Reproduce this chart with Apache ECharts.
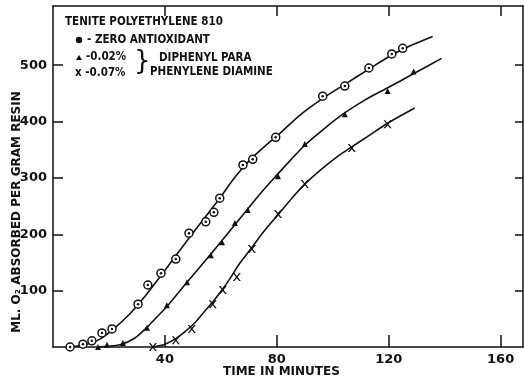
<!DOCTYPE html>
<html><head><meta charset="utf-8">
<script src="https://cdn.jsdelivr.net/npm/echarts@6/dist/echarts.min.js"></script>
<style>html,body{margin:0;padding:0;background:#fff}#c{width:524px;height:381px}</style>
</head><body><div id="c"></div>
<script>
// tick labels
const xTickValues = [40, 80, 120, 160];
const yTickValues = [100, 200, 300, 400, 500];

// measured points (time in minutes, ml O2 absorbed)
const zeroPts = [[6.1,0],[10.7,5],[13.9,11],[17.5,25],[21.1,32],[30.4,76],[33.9,110],[38.6,131],[43.9,156],[48.6,202],[54.6,222],[57.5,239],[59.6,264],[67.9,323],[71.4,333],[79.6,372],[96.4,445],[104.3,463],[112.9,495],[121.1,520],[125,530]];
const p02Pts = [[16.1,0],[19.3,4],[25,7],[33.6,34],[40.7,74],[47.9,115],[56.4,163],[60.4,186],[65,220],[69.6,243],[80.4,303],[90,360],[104.3,413],[119.6,454],[128.9,489]];
const p07Pts = [[35.7,0],[43.9,12],[49.6,32],[57.1,76],[60.7,101],[65.7,124],[71.1,174],[80.4,236],[90,289],[106.8,353],[119.6,395]];

// hand-drawn fitted curves
const zeroCurve = [[6.1,0],[11.4,4],[16.8,14],[22.1,34],[27.5,59],[32.9,90],[38.2,124],[43.6,160],[48.9,195],[54.3,230],[59.6,264],[65,301],[70.4,332],[75.7,356],[81.1,379],[88.2,411],[96.4,441],[104.3,466],[112.9,493],[121.1,518],[127.5,534],[135.7,551]];
const p02Curve = [[16.1,0],[23.9,4],[29.3,16],[33.6,35],[37.5,55],[41.1,74],[47.9,115],[56.1,163],[63.2,206],[69.6,245],[74.6,275],[80,305],[85,332],[90,358],[97.1,388],[103.6,413],[111.4,438],[119.3,459],[129.3,486],[138.9,512]];
const p07Curve = [[35.7,0],[40,5],[43.6,14],[47.1,27],[50.7,43],[54.3,64],[57.1,80],[60.4,101],[63.6,124],[66.8,149],[70.4,172],[75.7,207],[80.7,236],[85.4,264],[90,289],[96.1,316],[101.4,337],[106.8,355],[113.2,376],[119.6,397],[129.3,424]];

const INK = '#111';
const FONT = 'DejaVu Sans';
const LFONT = 'bold 11.5px "DejaVu Sans Condensed", "DejaVu Sans"';
const xPath = 'path://M0,0 L2,0 L5,3.6 L8,0 L10,0 L6,5 L10,10 L8,10 L5,6.4 L2,10 L0,10 L4,5 Z';

const chart = echarts.init(document.getElementById('c'), null, {renderer:'canvas'});
const axisLine = {show:true, onZero:false, lineStyle:{color:INK, width:1.5}};
const lineSeries = (d) => ({type:'line', data:d, smooth:0.3, showSymbol:false, symbol:'none',
  lineStyle:{color:INK, width:1.6}, z:2, silent:true});

chart.setOption({
  animation:false,
  backgroundColor:'#fff',
  grid:{left:53, right:1, top:6, bottom:34},
  xAxis:[
    {type:'value', min:0, max:168, interval:40, position:'bottom',
     axisLine:axisLine, splitLine:{show:false},
     axisTick:{show:true, inside:true, length:12, customValues:xTickValues, lineStyle:{color:INK, width:1.5}},
     axisLabel:{show:true, customValues:xTickValues, color:INK, fontFamily:FONT, fontWeight:'bold', fontSize:13, margin:6}},
    {type:'value', min:0, max:168, interval:40, position:'top',
     axisLine:axisLine, splitLine:{show:false},
     axisTick:{show:true, inside:true, length:10, customValues:xTickValues, lineStyle:{color:INK, width:1.5}},
     axisLabel:{show:false}}
  ],
  yAxis:[
    {type:'value', min:0, max:605, interval:100, position:'left',
     axisLine:axisLine, splitLine:{show:false},
     axisTick:{show:true, inside:true, length:10, customValues:yTickValues, lineStyle:{color:INK, width:1.5}},
     axisLabel:{show:true, customValues:yTickValues, color:INK, fontFamily:FONT, fontWeight:'bold', fontSize:13, margin:6}},
    {type:'value', min:0, max:605, interval:100, position:'right',
     axisLine:axisLine, splitLine:{show:false},
     axisTick:{show:true, inside:true, length:8, customValues:yTickValues, lineStyle:{color:INK, width:1.5}},
     axisLabel:{show:false}}
  ],
  series:[
    lineSeries(zeroCurve), lineSeries(p02Curve), lineSeries(p07Curve),
    {type:'scatter', data:zeroPts, symbol:'circle', symbolSize:8, z:3,
     itemStyle:{color:'#fff', borderColor:INK, borderWidth:1.5, opacity:1}},
    {type:'scatter', data:zeroPts, symbol:'circle', symbolSize:2.5, z:4,
     itemStyle:{color:INK, opacity:1}},
    {type:'scatter', data:p02Pts, symbol:'triangle', symbolSize:6, z:3,
     itemStyle:{color:INK, opacity:1}},
    {type:'scatter', data:p07Pts, symbol:xPath, symbolSize:8, z:3,
     itemStyle:{color:INK, opacity:1}}
  ],
  graphic:[
    {type:'text', left:65, top:16, style:{text:'TENITE POLYETHYLENE 810', fill:INK, font:LFONT}},
    {type:'circle', shape:{cx:79, cy:40, r:3.2}, style:{fill:INK}},
    {type:'text', left:87, top:34, style:{text:'- ZERO ANTIOXIDANT', fill:INK, font:LFONT}},
    {type:'polygon', shape:{points:[[76,60],[82,60],[79,55]]}, style:{fill:INK}},
    {type:'text', left:86, top:51, style:{text:'-0.02%', fill:INK, font:LFONT}},
    {type:'text', left:75, top:67, style:{text:'x -0.07%', fill:INK, font:LFONT}},
    {type:'text', left:134, top:49, style:{text:'}', fill:INK, font:'26px "DejaVu Sans"'}},
    {type:'text', left:159, top:52, style:{text:'DIPHENYL PARA', fill:INK, font:LFONT}},
    {type:'text', left:150, top:66, style:{text:'PHENYLENE DIAMINE', fill:INK, font:LFONT}},
    {type:'text', left:223, top:366, style:{text:'TIME IN MINUTES', fill:INK, font:'bold 12px "DejaVu Sans"'}},
    {type:'text', x:17, y:212, rotation:Math.PI/2, style:{text:'ML. O₂ ABSORBED PER GRAM RESIN', fill:INK, font:'bold 12px "DejaVu Sans"', align:'center', verticalAlign:'middle'}}
  ]
});
</script></body></html>
